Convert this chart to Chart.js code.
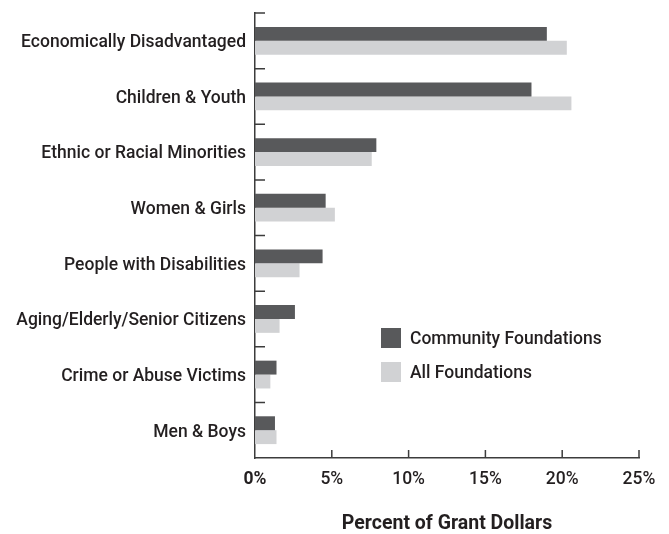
<!DOCTYPE html>
<html>
<head>
<meta charset="utf-8">
<script src="https://cdn.jsdelivr.net/npm/chart.js@4"></script>
<style>
  html, body { margin: 0; padding: 0; background: #fff; }
  #wrap { position: relative; width: 669px; height: 534px; }
  #legend { position: absolute; left: 381px; top: 328px; font: 500 17.5px Roboto, sans-serif; color: #231f20; }
  #legend div { display: flex; align-items: center; height: 20px; margin-bottom: 14px; }
  #legend span.box { width: 20px; height: 20px; margin-right: 9px; display: inline-block; }
</style>
</head>
<body>
<div id="wrap">
  <canvas id="myChart" width="669" height="534"></canvas>
  <div id="legend"></div>
</div>
<script>
const categories = [
  "Economically Disadvantaged",
  "Children & Youth",
  "Ethnic or Racial Minorities",
  "Women & Girls",
  "People with Disabilities",
  "Aging/Elderly/Senior Citizens",
  "Crime or Abuse Victims",
  "Men & Boys",
];
const seriesNames = ["Community Foundations", "All Foundations"];
const communityValues = [19.0, 18.0, 7.9, 4.6, 4.4, 2.6, 1.4, 1.3];
const allValues = [20.3, 20.6, 7.6, 5.2, 2.9, 1.6, 1.0, 1.4];
const xTicks = [0, 5, 10, 15, 20, 25];
const colors = ["#58595b", "#d1d2d4"];

const textColor = "#231f20";
const axisColor = "#3c3c3c";

// short tick marks drawn inside the plot, like the printed original
const innerTicks = {
  id: "innerTicks",
  afterDraw: (chart) => {
    const ctx = chart.ctx;
    const x = chart.scales.x;
    const y = chart.scales.y;
    ctx.save();
    ctx.strokeStyle = axisColor;
    ctx.lineWidth = 1.5;
    ctx.beginPath();
    xTicks.slice(1).forEach((v) => {
      const px = x.getPixelForValue(v);
      ctx.moveTo(px, y.bottom);
      ctx.lineTo(px, y.bottom - 8);
    });
    for (let i = 0; i < categories.length; i++) {
      const py = y.getPixelForValue(i - 0.5);
      ctx.moveTo(x.left, py);
      ctx.lineTo(x.left + 10, py);
    }
    ctx.stroke();
    ctx.restore();
  },
};

const chartConfig = {
  type: "bar",
  data: {
    labels: categories,
    datasets: [
      { label: seriesNames[0], data: communityValues, backgroundColor: colors[0] },
      { label: seriesNames[1], data: allValues, backgroundColor: colors[1] },
    ],
  },
  options: {
    indexAxis: "y",
    responsive: false,
    animation: false,
    layout: { padding: { top: 13, right: 30, left: 0, bottom: 0 } },
    datasets: { bar: { categoryPercentage: 0.5, barPercentage: 1.0 } },
    plugins: { legend: { display: false }, tooltip: { enabled: false } },
    scales: {
      x: {
        min: 0,
        max: 25,
        afterBuildTicks: (s) => {
          s.ticks = xTicks.map((v) => ({ value: v }));
        },
        afterFit: (s) => {
          s.height = 76;
          s.paddingLeft = 0;
        },
        grid: { display: false, drawTicks: false },
        border: { display: true, color: axisColor, width: 1.5 },
        ticks: {
          padding: 11,
          color: textColor,
          callback: (v) => `${v}%`,
          font: (c) => ({
            family: "Roboto",
            size: 17.5,
            weight: c.tick && c.tick.value === 0 ? "bold" : "500",
          }),
        },
        title: {
          display: true,
          text: "Percent of Grant Dollars",
          color: textColor,
          font: { family: "Roboto", size: 19.5, weight: "bold" },
          padding: { top: 0, bottom: -2 },
        },
      },
      y: {
        afterFit: (s) => {
          s.width = 255;
          s.paddingTop = 0;
          s.paddingBottom = 0;
        },
        grid: { display: false, drawTicks: false },
        border: { display: true, color: axisColor, width: 1.5 },
        ticks: {
          padding: 9,
          labelOffset: 2,
          color: textColor,
          font: { family: "Roboto", size: 17.5, weight: "500" },
        },
      },
    },
  },
  plugins: [innerTicks],
};

const legendBox = document.querySelector("div#legend");
seriesNames.forEach((name, i) => {
  const row = document.createElement("div");
  const box = document.createElement("span");
  box.className = "box";
  box.style.background = colors[i];
  row.appendChild(box);
  row.appendChild(document.createTextNode(name));
  legendBox.appendChild(row);
});

const ctx = document.querySelector("canvas#myChart").getContext("2d");
const myChart = new Chart(ctx, chartConfig);
</script>
</body>
</html>
